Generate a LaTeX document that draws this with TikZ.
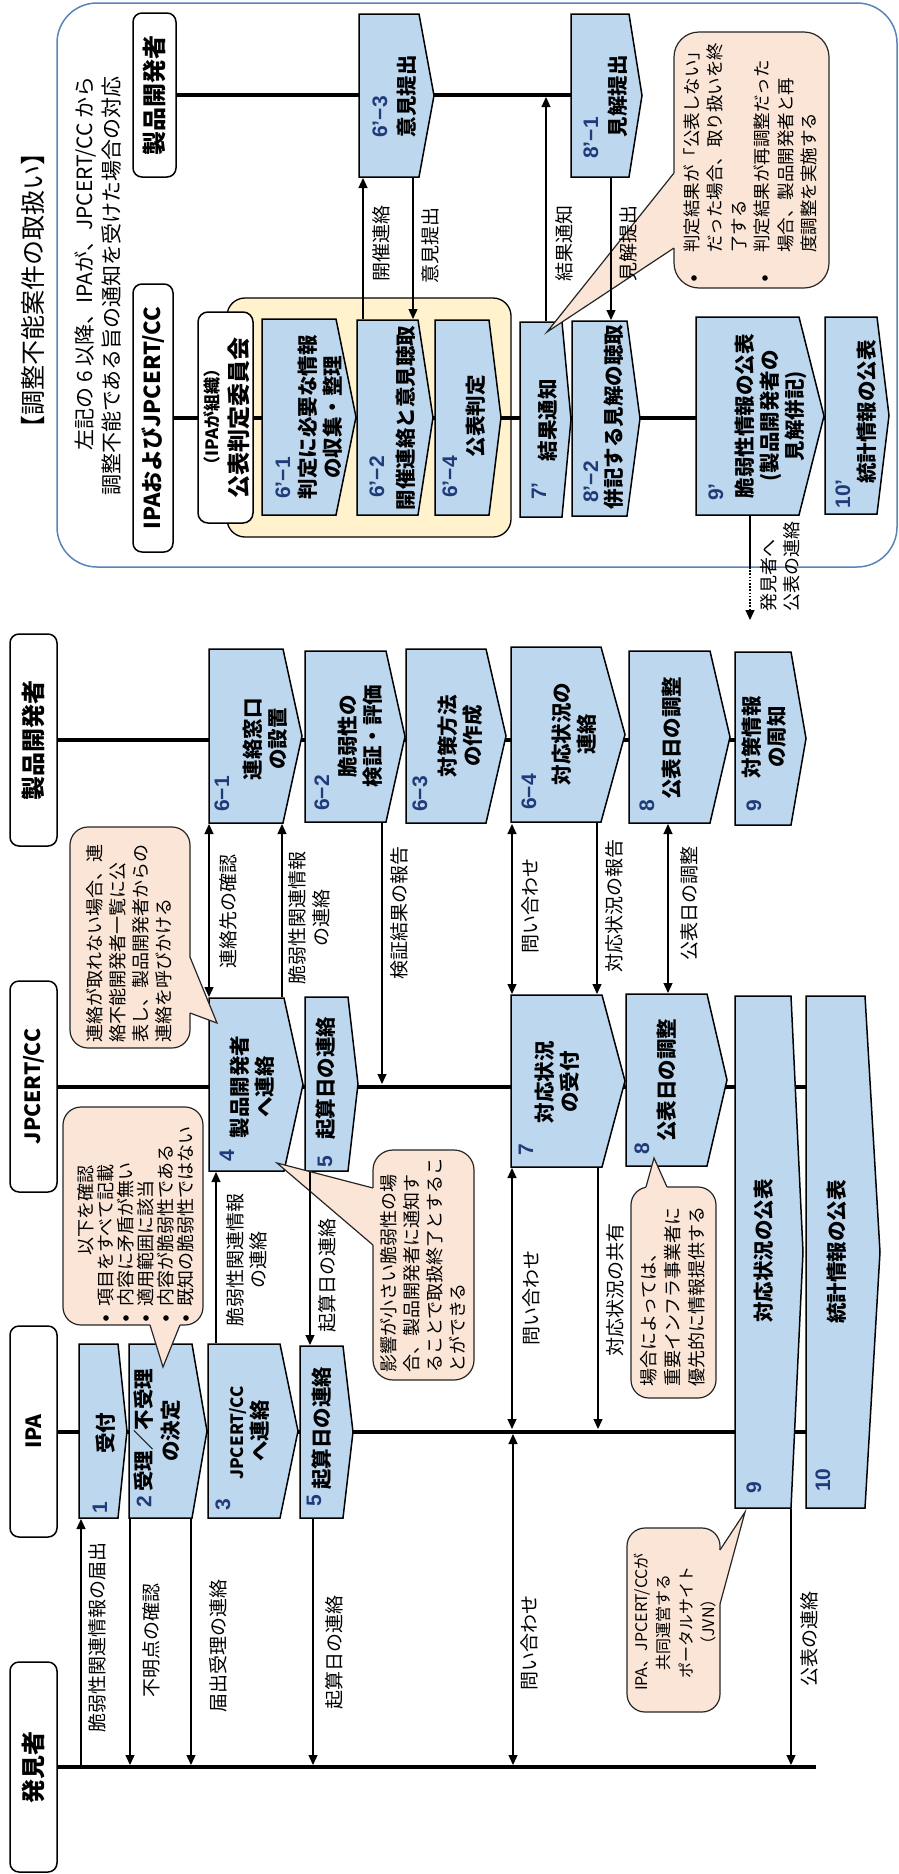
\documentclass[tikz,border=0pt]{standalone}
\usepackage{fontspec}
\setmainfont{Noto Sans CJK JP}
\newfontfamily\numfont{Liberation Sans}
\usetikzlibrary{arrows.meta}
\definecolor{boxblue}{HTML}{BDD7EE}
\definecolor{calfill}{HTML}{FBE5D6}
\definecolor{yelfill}{HTML}{FFF2CC}
\definecolor{numblue}{HTML}{1F3B7A}
\definecolor{panelblue}{HTML}{5A84B8}
\newcommand\chev[6]{%
  \filldraw[boxst] (#2,#5) -- (#3,#5) -- (#4,{(#5+#6)/2}) -- (#3,#6) -- (#2,#6) -- cycle;
  \coordinate (#1) at ({(#2+#3)/2},{(#5+#6)/2});}
\tikzset{
  lane/.style={line width=4pt},
  boxst/.style={draw=black, line width=1.5pt, fill=boxblue, line join=miter},
  conn/.style={line width=1.2pt, -{Triangle[length=10pt,width=9pt]}},
  dconn/.style={line width=1.2pt, {Triangle[length=10pt,width=9pt]}-{Triangle[length=10pt,width=9pt]}},
  lbl/.style={rotate=90, inner sep=0pt, font=\fontsize{19}{23}\selectfont, align=center},
  btxt/.style={rotate=90, inner sep=0pt, font=\bfseries\fontsize{20.5}{25}\selectfont, align=center},
  numl/.style={rotate=90, inner sep=0pt, font=\numfont\bfseries\fontsize{21}{25}\selectfont, text=numblue},
  ctxt/.style={rotate=90, inner sep=0pt, font=\fontsize{18}{23}\selectfont, align=left, anchor=north west},
  callst/.style={fill=calfill, draw=black!85, line width=1.2pt},
  calledge/.style={draw=black!85, line width=1.2pt},
  lanebox/.style={draw, line width=1.5pt, rounded corners=9pt, fill=white, rotate=90, inner sep=0pt, font=\bfseries\fontsize{24}{28}\selectfont},
}
\begin{document}
\begin{tikzpicture}[x=1pt,y=-1pt]
\useasboundingbox (0,0) rectangle (899,1874);

% ---------- upper panel ----------
\draw[panelblue, line width=1.5pt, rounded corners=40pt] (57,3) rectangle (897,567);
\filldraw[fill=yelfill, draw=black, line width=1.3pt, rounded corners=18pt] (227,298) rectangle (511,537);

\node[rotate=90, font=\fontsize{25}{30}\selectfont] (title) at (33,290) {【調整不能案件の取扱い】};
\node[rotate=90, inner sep=0pt, anchor=north east, align=right, font=\fontsize{21}{27}\selectfont] (sub) at (75,76) {左記の 6 以降、IPAが、JPCERT/CC から\\調整不能である旨の通知を受けた場合の対応};

% ---------- lane labels ----------
\node[lanebox, minimum width=210pt, minimum height=47pt] (lhak) at (33.5,1767) {発見者};
\node[lanebox, minimum width=211pt, minimum height=47pt, font=\bfseries\fontsize{21}{25}\selectfont] (lipa) at (33.5,1431.5) {IPA};
\node[lanebox, minimum width=211pt, minimum height=47pt, font=\bfseries\fontsize{21}{25}\selectfont] (ljp) at (33.5,1086.5) {JPCERT/CC};
\node[lanebox, minimum width=212pt, minimum height=47pt] (lsei) at (33.5,740) {製品開発者};
\node[lanebox, minimum width=268pt, minimum height=40pt, font=\bfseries\fontsize{22}{25}\selectfont] (luipa) at (153,418) {IPAおよびJPCERT/CC};
\node[lanebox, minimum width=164pt, minimum height=43pt] (lusei) at (154.5,95) {製品開発者};

% ---------- lane lines ----------
\coordinate (hakE) at (816,1767);
\coordinate (ipaE) at (806,1431.5);
\coordinate (jpE) at (806,1086.5);
\coordinate (seiE) at (735,740);
\coordinate (uipaE) at (825,418);
\coordinate (useiE) at (571,95);
\draw[lane] (lhak.south) -- (hakE);
\draw[lane] (lipa.south) -- (ipaE);
\draw[lane] (ljp.south) -- (jpE);
\draw[lane] (lsei.south) -- (seiE);
\draw[lane] (luipa.south) -- (uipaE);
\draw[lane] (lusei.south) -- (useiE);

\node[lanebox, minimum width=211pt, minimum height=55pt, rounded corners=10pt] (comm) at (225.5,417.5) {};
\node[rotate=90, inner sep=0pt, font=\bfseries\fontsize{17}{20}\selectfont] (comma) at (212,417) {（IPAが組織）};
\node[rotate=90, inner sep=0pt, font=\bfseries\fontsize{23}{26}\selectfont] (commb) at (239,418) {公表判定委員会};

% ---------- boxes (lower) ----------
\chev{b1}{79}{118}{127}{1344}{1518}
\chev{b2}{129}{192}{207}{1344}{1518}
\chev{b3}{208}{280}{298}{1344}{1518}
\chev{b5i}{300}{343}{353}{1346}{1518}
\chev{b4}{209}{284}{303}{998}{1171}
\chev{b5j}{305}{348}{358}{997}{1171}
\chev{b7}{511}{602}{625}{995}{1167}
\chev{b8j}{626}{707}{727}{994}{1166}
\chev{b9i}{735}{791}{803}{996}{1508}
\chev{b10}{806}{865}{880}{996}{1508}
\chev{b61}{209}{283}{302}{649}{823}
\chev{b62}{305}{386}{405}{651}{822}
\chev{b63}{406}{486}{506}{649}{823}
\chev{b64}{511}{601}{625}{647}{822}
\chev{b8p}{629}{710}{730}{651}{823}
\chev{b9p}{735}{791}{806}{652}{825}
% ---------- boxes (upper) ----------
\chev{u63}{359}{419}{434}{14}{177}
\chev{u81}{571}{629}{642}{14}{177}
\chev{u61}{262}{336}{356}{319}{515}
\chev{u62}{357}{418}{433}{320}{515}
\chev{u64}{435}{489}{501}{320}{515}
\chev{u7}{520}{562}{571}{322}{517}
\chev{u82}{572}{627}{640}{321}{516}
\chev{u9}{696}{799}{824}{317}{515}
\chev{u10}{825}{877}{889}{317}{514}

% ---------- callouts ----------
% A
\filldraw[callst, rounded corners=18pt] (63,1107) rectangle (203,1325);
\fill[calfill] (150,1321) -- (150,1325) -- (163,1367) -- (180,1325) -- (180,1321) -- cycle;
\draw[calledge] (150,1325) -- (163,1367) -- (180,1325);
% B
\filldraw[callst, rounded corners=18pt] (70,827) rectangle (190,1048);
\fill[calfill] (186,957) -- (190,957) -- (217,1023) -- (190,1013) -- (186,1013) -- cycle;
\draw[calledge] (190,957) -- (217,1023) -- (190,1013);
% C
\filldraw[callst, rounded corners=20pt] (373,1150) rectangle (474,1380);
\fill[calfill] (377,1188) -- (373,1188) -- (277,1163) -- (373,1245) -- (377,1245) -- cycle;
\draw[calledge] (373,1188) -- (277,1163) -- (373,1245);
% D
\filldraw[callst, rounded corners=18pt] (631,1187) rectangle (716,1398);
\fill[calfill] (646,1191) -- (646,1187) -- (654,1158) -- (667,1187) -- (667,1191) -- cycle;
\draw[calledge] (646,1187) -- (654,1158) -- (667,1187);
% E
\filldraw[callst, rounded corners=18pt] (627,1528) rectangle (720,1712);
\fill[calfill] (716,1550) -- (720,1550) -- (745,1512) -- (720,1604) -- (716,1604) -- cycle;
\draw[calledge] (720,1550) -- (745,1512) -- (720,1604);
% F
\filldraw[callst, rounded corners=25pt] (674,32) rectangle (829,288);
\fill[calfill] (678,173) -- (674,173) -- (547,332) -- (674,248) -- (678,248) -- cycle;
\draw[calledge] (674,173) -- (547,332) -- (674,248);

% ---------- connectors ----------
\coordinate (a1s) at (81,1765);  \coordinate (a1e) at (81,1519);
\coordinate (a2s) at (130,1519); \coordinate (a2e) at (130,1765);
\coordinate (a3s) at (191,1519); \coordinate (a3e) at (191,1765);
\coordinate (a4s) at (313,1519); \coordinate (a4e) at (313,1765);
\coordinate (a5s) at (513,1434); \coordinate (a5e) at (513,1765);
\coordinate (a6s) at (512,1168); \coordinate (a6e) at (512,1429);
\coordinate (a7s) at (512,824);  \coordinate (a7e) at (512,994);
\coordinate (a8s) at (597,823);  \coordinate (a8e) at (597,994);
\coordinate (a9s) at (598,1168); \coordinate (a9e) at (598,1429);
\coordinate (a10s) at (668,824); \coordinate (a10e) at (668,993);
\coordinate (a11s) at (791,1509); \coordinate (a11e) at (791,1765);
\coordinate (a12s) at (216,1343); \coordinate (a12e) at (216,1172);
\coordinate (a13s) at (310,1172); \coordinate (a13e) at (310,1345);
\coordinate (a14s) at (209,824); \coordinate (a14e) at (209,997);
\coordinate (a15s) at (282,997); \coordinate (a15e) at (282,824);
\coordinate (a16s) at (382,823); \coordinate (a16e) at (382,1084);
\coordinate (a17s) at (363,319); \coordinate (a17e) at (363,178);
\coordinate (a18s) at (413,178); \coordinate (a18e) at (413,319);
\coordinate (a19s) at (546,321); \coordinate (a19e) at (546,97);
\coordinate (a20s) at (611,178); \coordinate (a20e) at (611,320);
\coordinate (a21s) at (750,516); \coordinate (a21m) at (750,567); \coordinate (a21e) at (750,620);

\draw[conn] (a1s) -- (a1e);
\draw[conn] (a2s) -- (a2e);
\draw[conn] (a3s) -- (a3e);
\draw[conn] (a4s) -- (a4e);
\draw[dconn] (a5s) -- (a5e);
\draw[dconn] (a6s) -- (a6e);
\draw[dconn] (a7s) -- (a7e);
\draw[conn] (a8s) -- (a8e);
\draw[conn] (a9s) -- (a9e);
\draw[dconn] (a10s) -- (a10e);
\draw[conn] (a11s) -- (a11e);
\draw[conn] (a12s) -- (a12e);
\draw[conn] (a13s) -- (a13e);
\draw[dconn] (a14s) -- (a14e);
\draw[conn] (a15s) -- (a15e);
\draw[conn] (a16s) -- (a16e);
\draw[conn] (a17s) -- (a17e);
\draw[conn] (a18s) -- (a18e);
\draw[conn] (a19s) -- (a19e);
\draw[conn] (a20s) -- (a20e);
\draw[line width=1.2pt] (a21s) -- (a21m);
\draw[conn, dash pattern=on 1.6pt off 1.6pt] (a21m) -- (a21e);

% ---------- box texts (lower) ----------
\node[btxt] (t1) at (106,1433) {受付};
\node[numl] (n1) at (100,1508) {1};
\node[btxt] (t2a) at (144,1430) {受理／不受理};
\node[btxt] (t2b) at (171,1431) {の決定};
\node[numl] (n2) at (144,1502) {2};
\node[btxt, font=\bfseries\fontsize{17}{20}\selectfont] (t3a) at (238,1433) {JPCERT/CC};
\node[btxt] (t3b) at (260,1431) {へ連絡};
\node[numl] (n3) at (223,1505) {3};
\node[btxt] (t5i) at (322,1428) {起算日の連絡};
\node[numl] (n5i) at (314,1501) {5};
\node[btxt] (t4) at (252,1087) {製品開発者\\へ連絡};
\node[numl] (n4) at (227,1156) {4};
\node[btxt] (t5j) at (326,1078) {起算日の連絡};
\node[numl] (n5j) at (325,1162) {5};
\node[btxt] (t7) at (557,1082) {対応状況\\の受付};
\node[numl] (n7) at (526,1150) {7};
\node[btxt] (t8j) at (667,1080) {公表日の調整};
\node[numl] (n8j) at (642,1149) {8};
\node[btxt] (t9i) at (764,1251) {対応状況の公表};
\node[numl] (n9i) at (754,1488) {9};
\node[btxt] (t10) at (837,1252) {統計情報の公表};
\node[numl] (n10) at (823,1480) {10};
\node[btxt] (t61) at (265,739) {連絡窓口\\の設置};
\node[numl] (n61) at (222,794) {6−1};
\node[btxt] (t62) at (360,736) {脆弱性の\\検証・評価};
\node[numl] (n62) at (322,793) {6−2};
\node[btxt] (t63) at (460,736) {対策方法\\の作成};
\node[numl] (n63) at (420,794) {6−3};
\node[btxt] (t64) at (574,734) {対応状況の\\連絡};
\node[numl] (n64) at (529,792) {6−4};
\node[btxt] (t8p) at (672,738) {公表日の調整};
\node[numl] (n8p) at (647,806) {8};
\node[btxt] (t9pa) at (752,737) {対策情報};
\node[btxt] (t9pb) at (777,737) {の周知};
\node[numl] (n9p) at (754,806) {9};

% ---------- box texts (upper) ----------
\node[numl] (nu63) at (380,117) {6’−3};
\node[btxt] (tu63) at (407,96) {意見提出};
\node[numl] (nu81) at (591,138) {8’−1};
\node[btxt] (tu81) at (618,96) {見解提出};
\node[numl] (nu61) at (283,478) {6’−1};
\node[btxt] (tu61) at (320,417) {判定に必要な情報\\の収集・整理};
\node[numl] (nu62) at (377,477) {6’−2};
\node[btxt] (tu62) at (406,418) {開催連絡と意見聴取};
\node[numl] (nu64) at (450,477) {6’−4};
\node[btxt] (tu64) at (476,416) {公表判定};
\node[numl] (nu7) at (539,491) {7’};
\node[btxt] (tu7) at (548,420) {結果通知};
\node[numl] (nu82) at (591,482) {8’−2};
\node[btxt] (tu82) at (614,417) {併記する見解の聴取};
\node[numl] (nu9) at (716,492) {9’};
\node[btxt] (tu9) at (771,416) {脆弱性情報の公表\\(製品開発者の\\見解併記)};
\node[numl] (nu10) at (843,494) {10’};
\node[btxt] (tu10) at (867,412) {統計情報の公表};

% ---------- connector labels ----------
\node[lbl] (l1) at (97,1637) {脆弱性関連情報の届出};
\node[lbl] (l2) at (151,1640) {不明点の確認};
\node[lbl] (l3) at (218,1646) {届出受理の連絡};
\node[lbl] (l4) at (334,1652) {起算日の連絡};
\node[lbl] (l5) at (529,1643) {問い合わせ};
\node[lbl] (l6) at (531,1298) {問い合わせ};
\node[lbl] (l7) at (530,906) {問い合わせ};
\node[lbl] (l8) at (614,906) {対応状況の報告};
\node[lbl] (l9) at (615,1290) {対応状況の共有};
\node[lbl] (l10) at (689,903) {公表日の調整};
\node[lbl] (l11) at (809,1639) {公表の連絡};
\node[lbl] (l12) at (247,1260) {脆弱性関連情報\\の連絡};
\node[lbl] (l13) at (327,1275) {起算日の連絡};
\node[lbl] (l14) at (228,911) {連絡先の確認};
\node[lbl, font=\fontsize{19}{24.5}\selectfont] (l15) at (309,918) {脆弱性関連情報\\の連絡};
\node[lbl] (l16) at (399,913) {検証結果の報告};
\node[lbl] (l17) at (381,243) {開催連絡};
\node[lbl] (l18) at (430,245) {意見提出};
\node[lbl] (l19) at (564,243) {結果通知};
\node[lbl] (l20) at (628,243) {見解提出};
\node[lbl, align=left, anchor=north west, font=\fontsize{18}{23}\selectfont] (l21) at (760,612) {発見者へ\\公表の連絡};

% ---------- callout texts ----------
\node[rotate=90, inner sep=0pt, font=\fontsize{18}{20}\selectfont] (cah) at (86,1210) {以下を確認};
\node[ctxt, font=\fontsize{18}{20}\selectfont] (ca) at (97,1307) {項目をすべて記載\\内容に矛盾が無い\\適用範囲に該当\\内容が脆弱性である\\既知の脆弱性ではない};
\foreach \xx in {106,126,146,166,186} \fill (\xx,1318) circle (2.8pt);
\node[ctxt] (cb) at (86,1043) {連絡が取れない場合、連\\絡不能開発者一覧に公\\表し、製品開発者からの\\連絡を呼びかける};
\node[ctxt] (cc) at (380,1373) {影響が小さい脆弱性の場\\合、製品開発者に通知す\\ることで取扱終了とするこ\\とができる};
\node[ctxt, font=\fontsize{18}{24}\selectfont] (cd) at (640,1387) {場合によっては、\\重要インフラ事業者に\\優先的に情報提供する};
\node[rotate=90, inner sep=0pt, align=center, font=\fontsize{16}{22.5}\selectfont] (ce) at (675,1622) {IPA、JPCERT/CCが\\共同運営する\\ポータルサイト\\（JVN）};
\node[ctxt, font=\fontsize{17.5}{23.5}\selectfont] (cf) at (683,253) {判定結果が「公表しない」\\だった場合、取り扱いを終\\了する\\判定結果が再調整だった\\場合、製品開発者と再\\度調整を実施する};
\fill (694,278) circle (2.8pt);
\fill (765,278) circle (2.8pt);
\end{tikzpicture}
\end{document}
